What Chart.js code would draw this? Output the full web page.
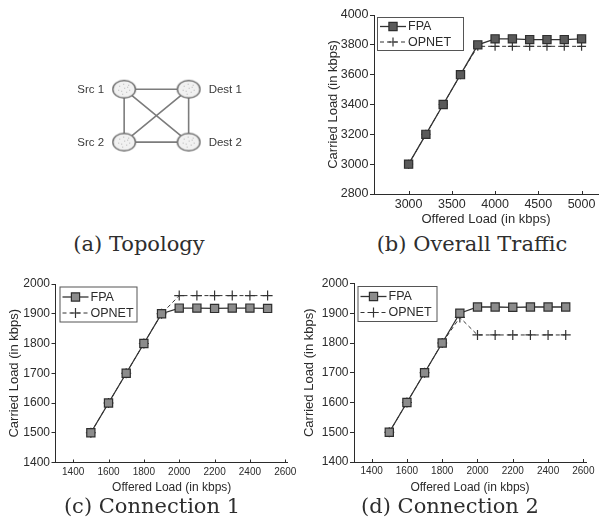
<!DOCTYPE html>
<html>
<head>
<meta charset="utf-8">
<script src="https://cdn.jsdelivr.net/npm/chart.js@4.4.1/dist/chart.umd.min.js"></script>
<style>
  html, body { margin: 0; padding: 0; background: #fff; }
  #fig { position: relative; width: 605px; height: 528px; overflow: hidden; background: #fff; }
  #fig canvas { position: absolute; }
  .cap { position: absolute; font-family: "DejaVu Serif", "Liberation Serif", serif; font-size: 21px;
         color: #2e2e2e; white-space: nowrap; line-height: 1; transform: translate(-50%, -50%); }
</style>
</head>
<body>
<div id="fig">
  <canvas id="topo" width="300" height="228" style="left:0;top:0"></canvas>
  <canvas id="overall" width="305" height="228" style="left:300px;top:0"></canvas>
  <canvas id="conn1" width="300" height="240" style="left:0;top:260px"></canvas>
  <canvas id="conn2" width="305" height="240" style="left:300px;top:260px"></canvas>
  <div class="cap" style="left:139px;top:244px">(a) Topology</div>
  <div class="cap" style="left:472px;top:244px">(b) Overall Traffic</div>
  <div class="cap" style="left:152px;top:506px">(c) Connection 1</div>
  <div class="cap" style="left:450px;top:506px">(d) Connection 2</div>
</div>
<script>
// ---- topology ----
const nodeNames = ['Src 1', 'Dest 1', 'Src 2', 'Dest 2'];
const nodeX = [0, 1, 0, 1];
const nodeY = [1, 1, 0, 0];
const links = [[0, 1], [0, 2], [1, 3], [2, 3], [0, 3], [1, 2]];

// ---- overall traffic ----
const offeredTotal = [3000, 3200, 3400, 3600, 3800, 4000, 4200, 4400, 4600, 4800, 5000];
const fpaTotal     = [3000, 3200, 3400, 3600, 3800, 3840, 3840, 3835, 3835, 3835, 3840];
const opnetTotal   = [3000, 3200, 3400, 3600, 3790, 3790, 3790, 3790, 3790, 3790, 3790];
const totalXTicks  = [3000, 3500, 4000, 4500, 5000];
const totalYTicks  = [2800, 3000, 3200, 3400, 3600, 3800, 4000];

// ---- per connection ----
const offeredConn = [1500, 1600, 1700, 1800, 1900, 2000, 2100, 2200, 2300, 2400, 2500];
const fpaConn1    = [1500, 1600, 1700, 1800, 1900, 1919, 1919, 1918, 1919, 1919, 1918];
const opnetConn1  = [1500, 1600, 1700, 1800, 1900, 1961, 1961, 1961, 1961, 1961, 1961];
const fpaConn2    = [1500, 1600, 1700, 1800, 1900, 1921, 1921, 1920, 1921, 1921, 1921];
const opnetConn2  = [1500, 1600, 1700, 1800, 1886, 1827, 1827, 1827, 1827, 1827, 1827];
const connXTicks  = [1400, 1600, 1800, 2000, 2200, 2400, 2600];
const connYTicks  = [1400, 1500, 1600, 1700, 1800, 1900, 2000];

const SANS = '"Liberation Sans", Arial, Helvetica, sans-serif';
const INK = '#2b2b2b';

// Stippled ellipse used for the network nodes
function makeNodeSprite() {
  const c = document.createElement('canvas');
  c.width = 26; c.height = 21;
  const g = c.getContext('2d');
  g.beginPath();
  g.ellipse(13, 10.5, 11.3, 8.8, 0, 0, Math.PI * 2);
  g.fillStyle = '#f1f1f1';
  g.fill();
  g.lineWidth = 1.4;
  g.strokeStyle = '#6e6e6e';
  g.stroke();
  g.fillStyle = '#b5b5b5';
  const dots = [[8,7],[12,5],[16,8],[10,12],[15,13],[18,11],[7,11],[13,9],[11,15],[17,6]];
  dots.forEach(([dx, dy]) => g.fillRect(dx, dy, 1, 1));
  return c;
}

const nodePoints = nodeNames.map((n, i) => ({ x: nodeX[i], y: nodeY[i] }));
const edgePoints = [];
links.forEach(([a, b]) => {
  edgePoints.push({ x: nodeX[a], y: nodeY[a] }, { x: nodeX[b], y: nodeY[b] }, { x: null, y: null });
});

const nodeLabels = {
  id: 'nodeLabels',
  afterDatasetsDraw(chart) {
    const ctx = chart.ctx;
    const meta = chart.getDatasetMeta(0);
    ctx.save();
    ctx.font = '11.5px ' + SANS;
    ctx.fillStyle = '#3a3a3a';
    ctx.textBaseline = 'middle';
    meta.data.forEach((pt, i) => {
      const left = nodeX[i] === 0;
      ctx.textAlign = left ? 'right' : 'left';
      ctx.fillText(nodeNames[i], pt.x + (left ? -20 : 20), pt.y + 0.5);
    });
    ctx.restore();
  }
};

new Chart(document.getElementById('topo'), {
  type: 'scatter',
  data: {
    datasets: [
      { data: nodePoints, pointStyle: makeNodeSprite(), pointRadius: 12, showLine: false },
      { data: edgePoints, showLine: true, spanGaps: false, borderColor: '#7c7c7c', borderWidth: 1.6, pointRadius: 0 }
    ]
  },
  options: {
    responsive: false, animation: false, events: [],
    layout: { padding: 0 },
    plugins: { legend: { display: false }, tooltip: { enabled: false } },
    scales: {
      x: { type: 'linear', display: false, min: -1.7238, max: 2.5255 },
      y: { type: 'linear', display: false, min: -1.3786, max: 2.4405 }
    }
  },
  plugins: [nodeLabels]
});

// Boxed legend with a line sample through the marker, and axis titles
const boxedLegend = {
  id: 'boxedLegend',
  afterDraw(chart, args, o) {
    const ctx = chart.ctx, a = chart.chartArea;
    const x0 = a.left + o.dx, y0 = a.top + o.dy;
    ctx.save();
    ctx.fillStyle = '#fff';
    ctx.fillRect(x0, y0, o.w, o.h);
    ctx.strokeStyle = '#555';
    ctx.lineWidth = 1;
    ctx.strokeRect(x0 + 0.5, y0 + 0.5, o.w, o.h);
    chart.data.datasets.forEach((ds, i) => {
      const y = y0 + o.rows[i];
      ctx.strokeStyle = ds.borderColor;
      ctx.lineWidth = ds.borderWidth;
      ctx.setLineDash(ds.borderDash || []);
      ctx.beginPath();
      ctx.moveTo(x0 + 3, y);
      ctx.lineTo(x0 + 29, y);
      ctx.stroke();
      ctx.setLineDash([]);
      ctx.fillStyle = ds.pointBackgroundColor;
      ctx.strokeStyle = ds.pointBorderColor;
      ctx.lineWidth = ds.pointBorderWidth;
      Chart.helpers.drawPoint(ctx, { pointStyle: ds.pointStyle, radius: ds.pointRadius, rotation: 0, borderWidth: ds.pointBorderWidth }, x0 + 16, y);
      ctx.fillStyle = INK;
      ctx.font = o.font + 'px ' + SANS;
      ctx.textAlign = 'left';
      ctx.textBaseline = 'middle';
      ctx.fillText(ds.label, x0 + 31, y + 0.5);
    });
    ctx.restore();
  }
};

const axisDecor = {
  id: 'axisDecor',
  afterDraw(chart, args, o) {
    const ctx = chart.ctx, a = chart.chartArea;
    const xs = chart.scales.x;
    ctx.save();
    // short inward tick marks on the horizontal axis
    ctx.strokeStyle = INK;
    ctx.lineWidth = 1;
    xs.ticks.forEach(t => {
      const px = Math.round(xs.getPixelForValue(t.value)) + 0.5;
      ctx.beginPath();
      ctx.moveTo(px, a.bottom);
      ctx.lineTo(px, a.bottom - 3);
      ctx.stroke();
    });
    ctx.fillStyle = INK;
    ctx.textAlign = 'center';
    ctx.textBaseline = 'middle';
    ctx.font = o.xFont + 'px ' + SANS;
    ctx.fillText(o.xTitle, (a.left + a.right) / 2 + o.xShift, a.bottom + o.xGap);
    ctx.translate(a.left - o.yGap, (a.top + a.bottom) / 2);
    ctx.rotate(-Math.PI / 2);
    ctx.font = o.yFont + 'px ' + SANS;
    ctx.fillText(o.yTitle, 0, 0);
    ctx.restore();
  }
};

function loadChart(id, s) {
  return new Chart(document.getElementById(id), {
    type: 'line',
    data: {
      datasets: [
        {
          label: 'FPA',
          data: s.x.map((v, i) => ({ x: v, y: s.fpa[i] })),
          borderColor: '#333', borderWidth: 1.3,
          pointStyle: 'rect', pointRadius: 5.8, pointBorderWidth: 1.2,
          pointBackgroundColor: s.squareFill, pointBorderColor: '#2e2e2e'
        },
        {
          label: 'OPNET',
          data: s.x.map((v, i) => ({ x: v, y: s.opnet[i] })),
          borderColor: '#333', borderWidth: 1, borderDash: [4, 3],
          pointStyle: 'cross', pointRadius: s.crossR, pointBorderWidth: 1.2,
          pointBackgroundColor: '#333', pointBorderColor: '#333'
        }
      ]
    },
    options: {
      responsive: false, animation: false, events: [],
      layout: { padding: s.pad },
      elements: { line: { tension: 0 } },
      plugins: {
        legend: { display: false }, tooltip: { enabled: false },
        boxedLegend: s.legend,
        axisDecor: s.titles
      },
      scales: {
        x: {
          type: 'linear', min: s.xMin, max: s.xMax,
          afterBuildTicks: ax => { ax.ticks = s.xTicks.map(v => ({ value: v })); },
          afterFit: ax => { ax.height = s.xH; },
          border: { display: true, color: INK, width: 1 },
          grid: { display: true, drawOnChartArea: false, drawTicks: false },
          ticks: { color: INK, font: { family: SANS, size: s.xTickFont }, padding: s.xTickPad,
                   maxRotation: 0, autoSkip: false, callback: v => String(v) }
        },
        y: {
          type: 'linear', min: s.yMin, max: s.yMax,
          afterBuildTicks: ax => { ax.ticks = s.yTicks.map(v => ({ value: v })); },
          afterFit: ax => { ax.width = s.yW; },
          border: { display: true, color: INK, width: 1 },
          grid: { display: true, drawOnChartArea: false, drawTicks: true, tickLength: 4, color: INK },
          ticks: { color: INK, font: { family: SANS, size: s.yTickFont }, padding: 1.5,
                   autoSkip: false, callback: v => String(v) }
        }
      }
    },
    plugins: [boxedLegend, axisDecor]
  });
}

loadChart('overall', {
  x: offeredTotal, fpa: fpaTotal, opnet: opnetTotal,
  xTicks: totalXTicks, yTicks: totalYTicks,
  xMin: 2600, xMax: 5190, yMin: 2800, yMax: 4000,
  pad: { left: 0, top: 15, right: 0, bottom: 0 }, yW: 74, xH: 34,
  xTickFont: 12.5, yTickFont: 12.5, xTickPad: 3,
  squareFill: '#5a5a5a', crossR: 4.5,
  legend: { dx: 3, dy: 2, w: 86, h: 33, rows: [9.5, 25], font: 12.5 },
  titles: { xTitle: 'Offered Load (in kbps)', yTitle: 'Carried Load (in kbps)', xFont: 13, yFont: 13, xGap: 25, yGap: 41, xShift: 0 }
});

loadChart('conn1', {
  x: offeredConn, fpa: fpaConn1, opnet: opnetConn1,
  xTicks: connXTicks, yTicks: connYTicks,
  xMin: 1300, xMax: 2615, yMin: 1400, yMax: 2000,
  pad: { left: 0, top: 24, right: 9, bottom: 0 }, yW: 55.5, xH: 37.5,
  xTickFont: 10, yTickFont: 12, xTickPad: 3.5,
  squareFill: '#8c8c8c', crossR: 5,
  legend: { dx: 4, dy: 2.5, w: 77, h: 35, rows: [10.5, 26.5], font: 12.5 },
  titles: { xTitle: 'Offered Load (in kbps)', yTitle: 'Carried Load (in kbps)', xFont: 12, yFont: 13, xGap: 25.5, yGap: 41.5, xShift: 0 }
});

loadChart('conn2', {
  x: offeredConn, fpa: fpaConn2, opnet: opnetConn2,
  xTicks: connXTicks, yTicks: connYTicks,
  xMin: 1300, xMax: 2615, yMin: 1400, yMax: 2000,
  pad: { left: 0, top: 23.5, right: 19, bottom: 0 }, yW: 54, xH: 38,
  xTickFont: 10, yTickFont: 12, xTickPad: 3.5,
  squareFill: '#8c8c8c', crossR: 5,
  legend: { dx: 3.5, dy: 2.5, w: 79, h: 35, rows: [10.5, 26.5], font: 12.5 },
  titles: { xTitle: 'Offered Load (in kbps)', yTitle: 'Carried Load (in kbps)', xFont: 12, yFont: 13, xGap: 25.5, yGap: 45, xShift: 0 }
});
</script>
</body>
</html>
